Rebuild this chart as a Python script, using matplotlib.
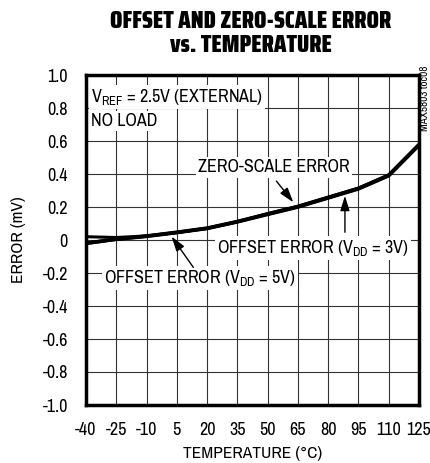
import numpy as np
import matplotlib
matplotlib.use("Agg")
import matplotlib.pyplot as plt
from matplotlib import font_manager
from matplotlib.font_manager import FontProperties

# look for a narrow sans (regular for text, heaviest one for the title)
def wnum(w):
    if isinstance(w, (int, float)):
        return int(w)
    return font_manager.weight_dict.get(str(w), 400)

narrow = [f for f in font_manager.fontManager.ttflist
          if ('Narrow' in f.name or 'Condensed' in f.name) and f.style == 'normal']
regular = sorted([f for f in narrow if wnum(f.weight) == 400 and 'Extra' not in f.name
                  and 'Semi' not in f.name], key=lambda f: f.name)
body_fams = [regular[0].name] if regular else []
plt.rcParams['font.family'] = body_fams + ['Roboto', 'DejaVu Sans']
heavy = sorted(narrow, key=lambda f: (wnum(f.weight), 'Extra' not in f.name, 'Semi' not in f.name))
if heavy and wnum(heavy[-1].weight) >= 700:
    title_prop = FontProperties(fname=heavy[-1].fname, size=15)
else:
    title_prop = FontProperties(family=body_fams + ['DejaVu Sans'], weight='bold', size=15)

# data
temps = [-40, -25, -10, 5, 20, 35, 50, 65, 80, 95, 110, 125]
zero_scale = [0.02, 0.015, 0.025, 0.045, 0.07, 0.11, 0.16, 0.205, 0.26, 0.315, 0.395, 0.58]
offset_5v = [-0.02, 0.005, 0.022, 0.045, 0.07, 0.11, 0.155, 0.2, 0.255, 0.31, 0.39, 0.575]
offset_3v = [-0.02, 0.005, 0.024, 0.047, 0.072, 0.112, 0.158, 0.202, 0.257, 0.312, 0.392, 0.577]
x_ticks = [-40, -25, -10, 5, 20, 35, 50, 65, 80, 95, 110, 125]
y_ticks = [1.0, 0.8, 0.6, 0.4, 0.2, 0, -0.2, -0.4, -0.6, -0.8, -1.0]
y_labels = ['1.0', '0.8', '0.6', '0.4', '0.2', '0', '-0.2', '-0.4', '-0.6', '-0.8', '-1.0']

fig = plt.figure(figsize=(4.31, 4.63), dpi=100)
ax = fig.add_axes([86 / 431, 1 - 405 / 463, 333 / 431, 330 / 463])

ax.plot(temps, zero_scale, color='black', lw=2.2, solid_capstyle='butt')
ax.plot(temps, offset_5v, color='black', lw=2.6, solid_capstyle='butt')
ax.plot(temps, offset_3v, color='black', lw=2.6, solid_capstyle='butt')

ax.set_xlim(-40, 125)
ax.set_ylim(-1.0, 1.0)
ax.set_xticks(x_ticks)
ax.set_xticklabels([str(t) for t in x_ticks])
ax.set_yticks(y_ticks)
ax.set_yticklabels(y_labels)
ax.tick_params(length=0, labelsize=13)
ax.tick_params(axis='x', pad=12)
ax.tick_params(axis='y', pad=13)
ax.grid(True, color='#333333', lw=0.8)
for s in ax.spines.values():
    s.set_linewidth(2.5)

ax.set_xlabel('TEMPERATURE (°C)', fontsize=12.5, labelpad=6)
ax.set_ylabel('ERROR (mV)', fontsize=12.5, labelpad=12)

title = fig.text(251 / 431, 1 - 33 / 463, 'OFFSET AND ZERO-SCALE ERROR\nvs. TEMPERATURE',
                 ha='center', va='center', fontproperties=title_prop, linespacing=1.05)
# scale the title so its width is about that of the original (282 px)
fig.canvas.draw()
w = title.get_window_extent().width
title.set_fontsize(min(24, 15 * 282 / w))

box = dict(facecolor='white', edgecolor='none', pad=1.5)
ax.text(-37.5, 0.865, r'V$_{\mathregular{REF}}$ = 2.5V (EXTERNAL)', fontsize=13,
        va='center', ha='left', bbox=box)
ax.text(-37.5, 0.72, 'NO LOAD', fontsize=13, va='center', ha='left', bbox=box)
ax.text(53, 0.44, 'ZERO-SCALE ERROR', fontsize=13, ha='center', va='center', bbox=box)
ax.text(72.5, -0.05, r'OFFSET ERROR (V$_{\mathregular{DD}}$ = 3V)', fontsize=13,
        ha='center', va='center', bbox=box)
ax.text(16.5, -0.23, r'OFFSET ERROR (V$_{\mathregular{DD}}$ = 5V)', fontsize=13,
        ha='center', va='center', bbox=box)

arr = dict(arrowstyle='-|>,head_length=0.9,head_width=0.28', color='black', lw=1.0)
ax.annotate('', xy=(63.6, 0.215), xytext=(53.5, 0.37), arrowprops=arr)
ax.annotate('', xy=(88.3, 0.285), xytext=(88.3, 0.03), arrowprops=arr)
ax.annotate('', xy=(1.6, 0.035), xytext=(14, -0.18), arrowprops=arr)

fig.text(425 / 431, 1 - 66 / 463, 'MAX5803 toc08', rotation=90, fontsize=8,
         ha='center', va='top')

fig.savefig('out.png', dpi=100)
